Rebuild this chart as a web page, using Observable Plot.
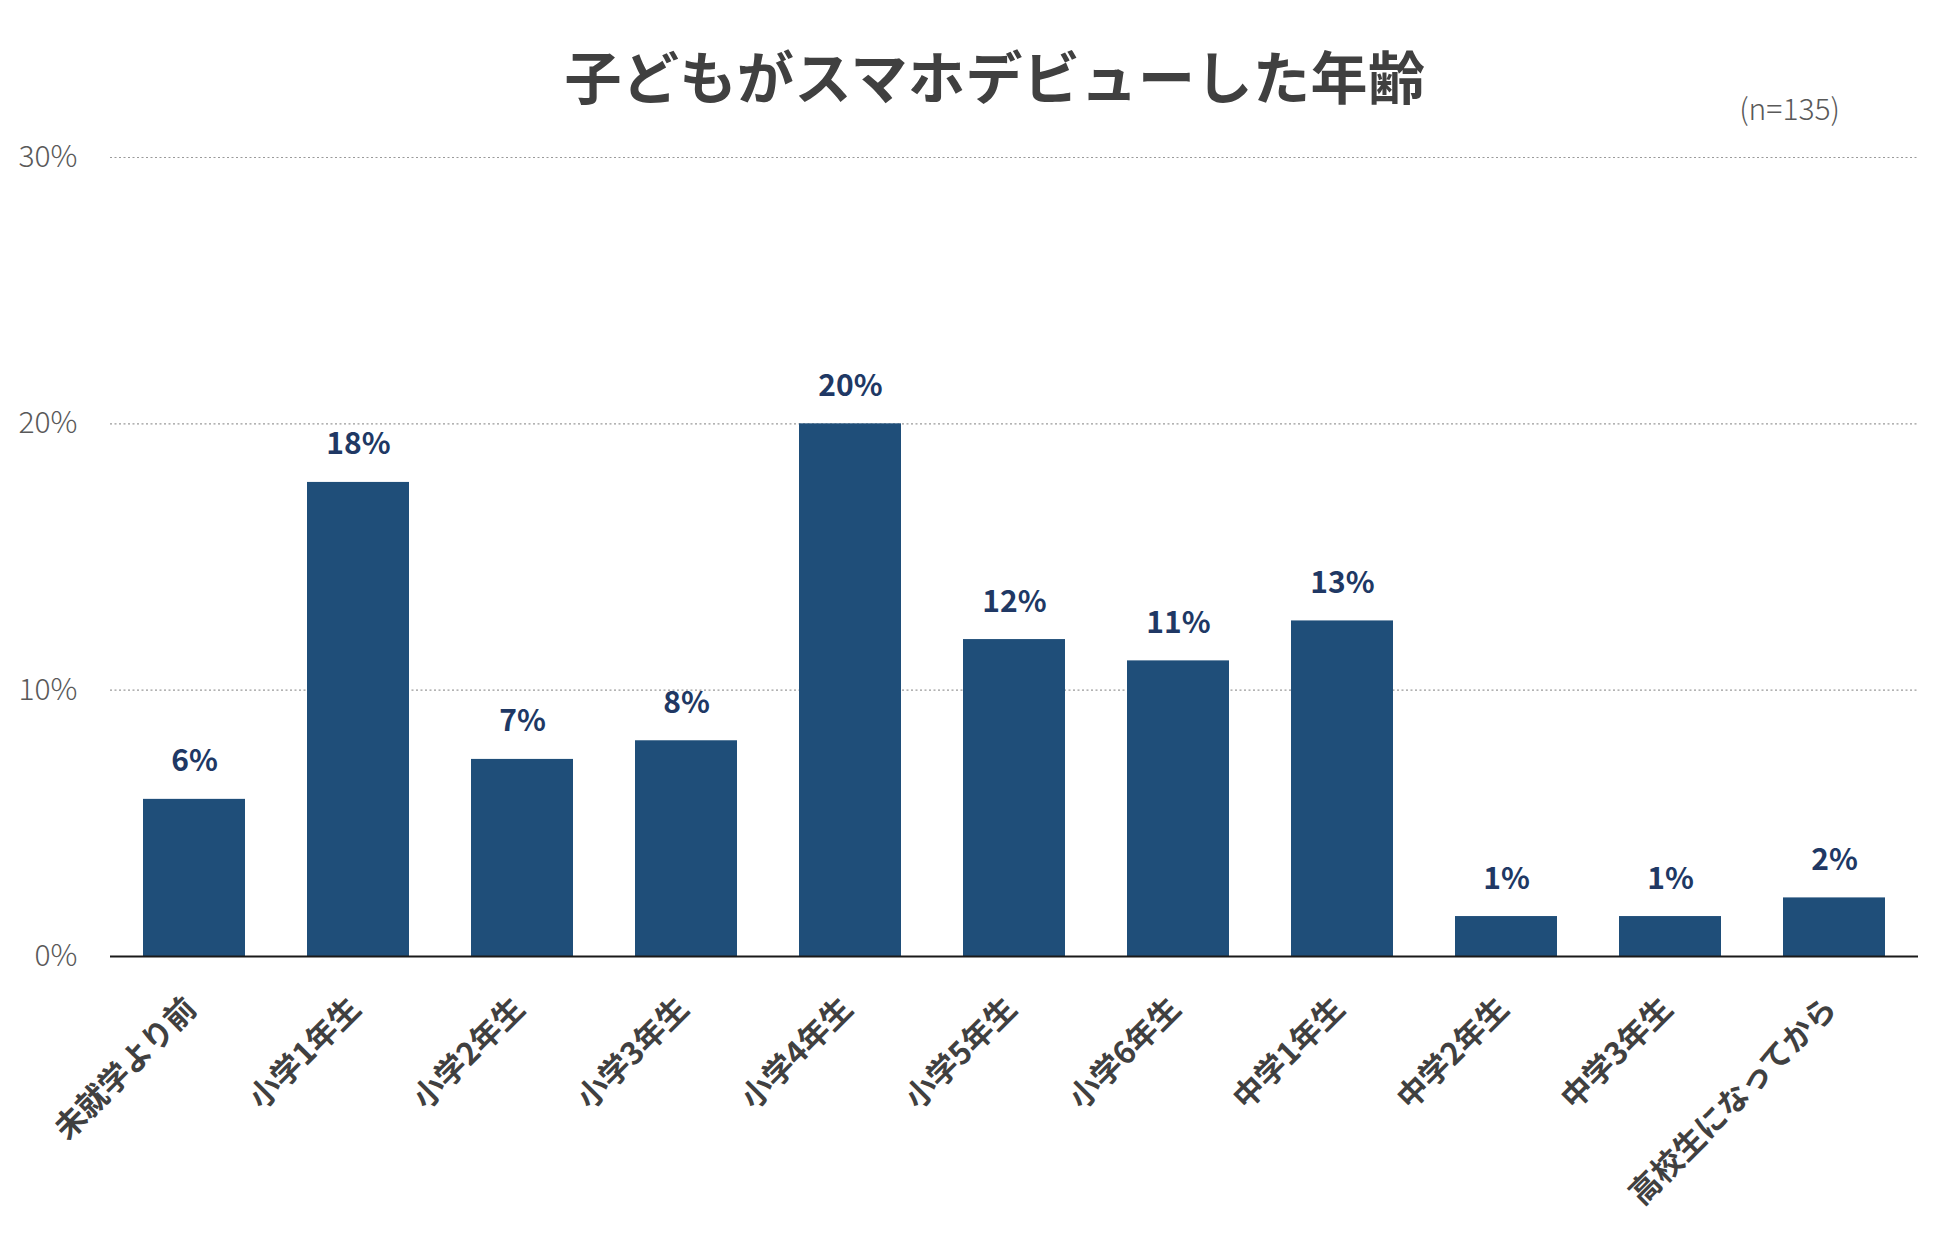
<!DOCTYPE html>
<html>
<head>
<meta charset="utf-8">
<script src="https://cdn.jsdelivr.net/npm/d3@7"></script>
<script src="https://cdn.jsdelivr.net/npm/@observablehq/plot@0.6"></script>
<style>
  html, body { margin: 0; padding: 0; background: #fff; overflow: hidden; }
  #wrap { position: relative; width: 1950px; height: 1234px; font-family: "Noto Sans CJK JP", "Noto Sans", sans-serif; }
  #title { position: absolute; left: 0; top: 46px; width: 1990px; text-align: center; font-size: 57px; line-height: 57px; font-weight: 700; letter-spacing: 0.5px; color: #404040; white-space: nowrap; }
  #note { position: absolute; right: 110px; top: 92px; font-size: 30px; line-height: 30px; font-weight: 300; color: #595959; white-space: nowrap; }
  #chart { position: absolute; left: 0; top: 0; }
</style>
</head>
<body>
<div id="wrap">
  <div id="chart"></div>
  <div id="title">子どもがスマホデビューした年齢</div>
  <div id="note">(n=135)</div>
</div>
<script>
const categories = ["未就学より前", "小学1年生", "小学2年生", "小学3年生", "小学4年生", "小学5年生", "小学6年生", "中学1年生", "中学2年生", "中学3年生", "高校生になってから"];
const values = [5.9, 17.8, 7.4, 8.1, 20.0, 11.9, 11.1, 12.6, 1.5, 1.5, 2.2];
const valueLabels = ["6%", "18%", "7%", "8%", "20%", "12%", "11%", "13%", "1%", "1%", "2%"];
const yTicks = [0, 10, 20, 30];

const data = categories.map((c, i) => ({category: c, value: values[i], label: valueLabels[i]}));

const chart = Plot.plot({
  width: 1950,
  height: 1234,
  marginLeft: 110,
  marginRight: 32,
  marginTop: 157,
  marginBottom: 278,
  style: {fontFamily: '"Noto Sans CJK JP", "Noto Sans", sans-serif', background: "transparent"},
  x: {domain: categories, paddingInner: 0.38, paddingOuter: 0.19, axis: null},
  y: {domain: [0, 30], axis: null},
  marks: [
    Plot.gridY(yTicks.filter(t => t > 0), {stroke: "#9a9a9a", strokeOpacity: 1, strokeWidth: 1.2, strokeDasharray: "2,2.5"}),
    Plot.axisY(yTicks, {label: null, tickSize: 0, tickPadding: 33, tickFormat: d => d + "%", fontSize: 30, fontWeight: 300, fill: "#595959"}),
    Plot.barY(data, {x: "category", y: "value", fill: "#1F4E79"}),
    Plot.ruleY([0], {stroke: "#1a1a1a", strokeWidth: 2}),
    Plot.text(data, {x: "category", y: "value", text: "label", dy: -28, lineAnchor: "bottom", fontSize: 30, fontWeight: 700, fill: "#203864"}),
    Plot.text(data, {x: "category", y: () => 0, text: "category", rotate: -45, textAnchor: "end", lineAnchor: "bottom", dx: 4, dy: 54, fontSize: 31, fontWeight: 700, fill: "#404040"})
  ]
});
document.getElementById("chart").appendChild(chart);
</script>
</body>
</html>
